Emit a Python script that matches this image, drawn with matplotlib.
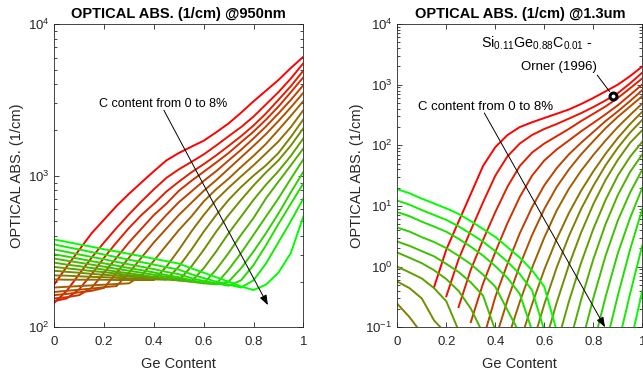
import numpy as np
import matplotlib
matplotlib.use('Agg')
import matplotlib.pyplot as plt
from matplotlib.ticker import LogLocator, NullFormatter

plt.rcParams['font.family'] = ['Liberation Sans', 'DejaVu Sans']
plt.rcParams['mathtext.fontset'] = 'custom'
plt.rcParams['mathtext.rm'] = 'Liberation Sans'
plt.rcParams['mathtext.it'] = 'Liberation Sans:italic'
plt.rcParams['mathtext.bf'] = 'Liberation Sans:bold'

nan = np.nan

# Ge content grid shared by every curve
ge_content = [0.0, 0.05, 0.1, 0.15, 0.2, 0.25, 0.3, 0.35, 0.4, 0.45, 0.5,
              0.55, 0.6, 0.65, 0.7, 0.75, 0.8, 0.85, 0.9, 0.95, 1.0]
# carbon content (%) of each curve, red -> green
c_content = [0.0, 0.5, 1.0, 1.5, 2.0, 2.5, 3.0, 3.5, 4.0, 4.5, 5.0, 5.5, 6.0,
             6.5, 7.0, 7.5, 8.0]
x_ticks = [0, 0.2, 0.4, 0.6, 0.8, 1]
x_tick_labels = ['0', '0.2', '0.4', '0.6', '0.8', '1']

# absorption (1/cm) at 950 nm, one list per C content
abs_950 = [
    [192, 251, 324, 417, 513, 631, 759, 902, 1070, 1260, 1410, 1550, 1700, 1930, 2210, 2600, 3090, 3630, 4270, 5130, 6080],
    [145, 174, 224, 288, 363, 452, 556, 676, 813, 966, 1100, 1230, 1380, 1580, 1820, 2090, 2450, 2950, 3550, 4370, 5510],
    [149, 155, 178, 224, 288, 363, 452, 550, 653, 785, 912, 1050, 1190, 1360, 1570, 1820, 2140, 2570, 3160, 3890, 4920],
    [155, 158, 163, 182, 229, 288, 363, 447, 550, 653, 794, 923, 1060, 1220, 1410, 1660, 1950, 2340, 2850, 3550, 4450],
    [163, 166, 170, 174, 182, 229, 288, 363, 447, 550, 668, 785, 923, 1070, 1260, 1480, 1760, 2110, 2570, 3160, 3950],
    [171, 174, 177, 180, 184, 187, 229, 288, 363, 447, 550, 661, 794, 933, 1110, 1320, 1570, 1880, 2290, 2820, 3520],
    [183, 185, 187, 189, 191, 193, 195, 219, 275, 347, 437, 537, 676, 813, 955, 1140, 1350, 1620, 2000, 2480, 3100],
    [207, 206, 206, 206, 206, 205, 205, 205, 205, 251, 324, 427, 550, 692, 832, 989, 1170, 1400, 1680, 2090, 2700],
    [220, 219, 217, 215, 214, 212, 210, 209, 207, 206, 251, 324, 427, 550, 692, 841, 1000, 1170, 1410, 1800, 2350],
    [236, 232, 229, 225, 222, 219, 216, 213, 210, 207, 204, 251, 324, 427, 550, 692, 861, 1050, 1260, 1580, 2050],
    [250, 245, 240, 235, 231, 226, 221, 217, 213, 208, 204, 200, 245, 316, 417, 537, 692, 871, 1070, 1350, 1760],
    [267, 259, 253, 246, 240, 233, 227, 221, 215, 210, 204, 200, 195, 240, 309, 407, 525, 708, 912, 1170, 1510],
    [284, 275, 267, 259, 251, 243, 236, 229, 222, 215, 209, 202, 195, 193, 240, 309, 407, 537, 708, 955, 1280],
    [303, 293, 283, 273, 264, 255, 246, 238, 230, 221, 214, 204, 197, 192, 200, 245, 316, 417, 562, 776, 1060],
    [326, 314, 302, 291, 281, 270, 260, 251, 242, 232, 224, 211, 202, 195, 188, 204, 257, 347, 479, 653, 887],
    [352, 338, 326, 313, 302, 290, 279, 269, 259, 249, 240, 224, 211, 200, 191, 183, 204, 263, 363, 501, 706],
    [379, 366, 352, 340, 327, 316, 305, 294, 283, 273, 263, 245, 229, 214, 200, 186, 176, 191, 229, 309, 537],
]

# absorption (1/cm) at 1.3 um; nan where the absorption is zero
abs_1300 = [
    [nan] * 3 + [0.457, 1.91, 5.50, 15.8, 45.7, 93.3, 148, 200, 240, 282, 331, 389, 479, 603, 776, 1000, 1380, 2000],
    [nan] * 4 + [0.324, 1.32, 3.98, 11.5, 31.6, 66.1, 107, 148, 186, 224, 275, 339, 427, 550, 724, 1050, 1580],
    [nan] * 5 + [0.215, 0.891, 2.75, 7.94, 20.9, 45.7, 75.9, 107, 141, 186, 251, 331, 437, 603, 871, 1270],
    [nan] * 6 + [0.122, 0.525, 1.74, 5.25, 14.1, 31.6, 56.2, 85.1, 120, 170, 234, 324, 457, 676, 1010],
    [nan] * 7 + [0.063, 0.316, 1.12, 3.55, 9.55, 21.9, 41.7, 70.8, 110, 166, 251, 363, 537, 813],
    [nan] * 8 + [0.063, 0.282, 1.05, 3.31, 8.91, 20.4, 39.8, 70.8, 117, 191, 295, 437, 646],
    [nan] * 9 + [0.063, 0.263, 0.955, 3.02, 8.32, 19.1, 38.0, 69.2, 120, 200, 316, 490],
    [nan] * 10 + [0.056, 0.240, 0.891, 2.82, 7.59, 17.8, 37.2, 72.4, 132, 224, 359],
    [0.244, 0.147, 0.079] + [nan] * 8 + [0.050, 0.240, 0.955, 3.16, 8.91, 21.4, 46.8, 91.2, 162, 263],
    [0.568, 0.442, 0.299, 0.130, 0.079] + [nan] * 7 + [0.050, 0.251, 1.05, 3.63, 10.7, 26.9, 57.5, 110, 178],
    [1.00, 0.802, 0.638, 0.442, 0.269, 0.089] + [nan] * 7 + [0.050, 0.263, 1.15, 4.17, 12.6, 31.6, 64.6, 115],
    [1.71, 1.40, 1.14, 0.873, 0.624, 0.398, 0.204, 0.079] + [nan] * 6 + [0.050, 0.282, 1.32, 5.01, 15.1, 36.3, 70.8],
    [2.59, 2.20, 1.80, 1.48, 1.11, 0.817, 0.550, 0.333, 0.089] + [nan] * 6 + [0.050, 0.302, 1.51, 5.75, 16.6, 39.8],
    [4.41, 3.78, 3.06, 2.55, 2.02, 1.51, 1.10, 0.738, 0.467, 0.191, 0.079] + [nan] * 5 + [0.050, 0.316, 1.66, 6.31, 20.0],
    [7.91, 6.79, 5.51, 4.58, 3.76, 2.88, 2.13, 1.52, 1.02, 0.649, 0.355, 0.089] + [nan] * 5 + [0.050, 0.331, 1.91, 8.91],
    [12.3, 10.5, 8.57, 7.11, 5.89, 4.63, 3.48, 2.58, 1.79, 1.20, 0.755, 0.409, 0.089] + [nan] * 5 + [0.050, 0.355, 2.24],
    [18.9, 16.2, 13.2, 11.0, 9.12, 7.41, 5.62, 4.17, 3.09, 2.09, 1.41, 0.871, 0.468, 0.089] + [nan] * 5 + [0.050, 0.398],
]

# measured point: Si0.11Ge0.88C0.01, Orner (1996)
orner_ge = 0.88
orner_abs = 650

GRAY = '#262626'


def curve_color(c):
    t = c / max(c_content)
    return (1 - t, t, 0)


def style_axes(ax, ylim, title, ylabel_x):
    ax.set_yscale('log')
    ax.set_xlim(0, 1)
    ax.set_ylim(*ylim)
    ax.set_xticks(x_ticks)
    ax.set_xticklabels(x_tick_labels)
    ax.yaxis.set_major_locator(LogLocator(base=10, numticks=10))
    ax.yaxis.set_minor_locator(LogLocator(base=10, subs=np.arange(2, 10), numticks=10))
    ax.yaxis.set_minor_formatter(NullFormatter())
    ax.tick_params(which='both', direction='in', top=True, right=True,
                   colors=GRAY, labelsize=9.5)
    ax.tick_params(axis='x', pad=6.5)
    ax.tick_params(axis='y', pad=3.5)
    ax.tick_params(which='major', length=3.5, width=0.6)
    ax.tick_params(which='minor', length=2, width=0.6)
    for s in ax.spines.values():
        s.set_color(GRAY)
        s.set_linewidth(0.6)
    ax.set_title(title, fontsize=10.5, fontweight='bold', pad=4)
    ax.set_xlabel('Ge Content', fontsize=10.5, color=GRAY, labelpad=6)
    ax.set_ylabel('OPTICAL ABS. (1/cm)', fontsize=10.5, color=GRAY)
    ax.yaxis.set_label_coords(ylabel_x, 0.5)


fig = plt.figure(figsize=(6.43, 3.74), dpi=100)
ax1 = fig.add_axes([54.3 / 643, 46.7 / 374, 249 / 643, 303.3 / 374])
ax2 = fig.add_axes([397.3 / 643, 46.7 / 374, 245 / 643, 303.3 / 374])

for c, vals in zip(c_content, abs_950):
    ax1.plot(ge_content, vals, color=curve_color(c), lw=1.4)
for c, vals in zip(c_content, abs_1300):
    ax2.plot(ge_content, vals, color=curve_color(c), lw=1.4)

style_axes(ax1, (1e2, 1e4), 'OPTICAL ABS. (1/cm) @950nm', -0.12)
style_axes(ax2, (1e-1, 1e4), 'OPTICAL ABS. (1/cm) @1.3um', -0.135)

arrow = dict(arrowstyle='-|>,head_length=0.6,head_width=0.22', color='black',
             lw=0.7, shrinkA=0, shrinkB=0)

# left annotation
ax1.annotate('', xy=(0.858, 140), xytext=(0.44, 2700), arrowprops=arrow)
ax1.text(0.439, 2980, 'C content from 0 to 8%', ha='center', va='center', fontsize=9)

# right annotation
ax2.annotate('', xy=(0.848, 0.1), xytext=(0.355, 342), arrowprops=arrow,
             annotation_clip=False)
ax2.text(0.361, 435, 'C content from 0 to 8%', ha='center', va='center', fontsize=9.5)

ax2.text(0.799, 4860, r'Si$_{0.11}$Ge$_{0.88}$C$_{0.01}$ -', ha='right', va='center',
         fontsize=10.3)
ax2.text(0.816, 1980, 'Orner (1996)', ha='right', va='center', fontsize=9.5)
ax2.annotate('', xy=(orner_ge, orner_abs), xytext=(0.816, 1435),
             arrowprops=dict(arrowstyle='-', color='black', lw=0.7,
                             shrinkA=0, shrinkB=4))
ax2.plot(orner_ge, orner_abs, 'o', ms=5, mfc='white', mec='black', mew=2.2, zorder=5)

fig.savefig('out.png', dpi=100)
